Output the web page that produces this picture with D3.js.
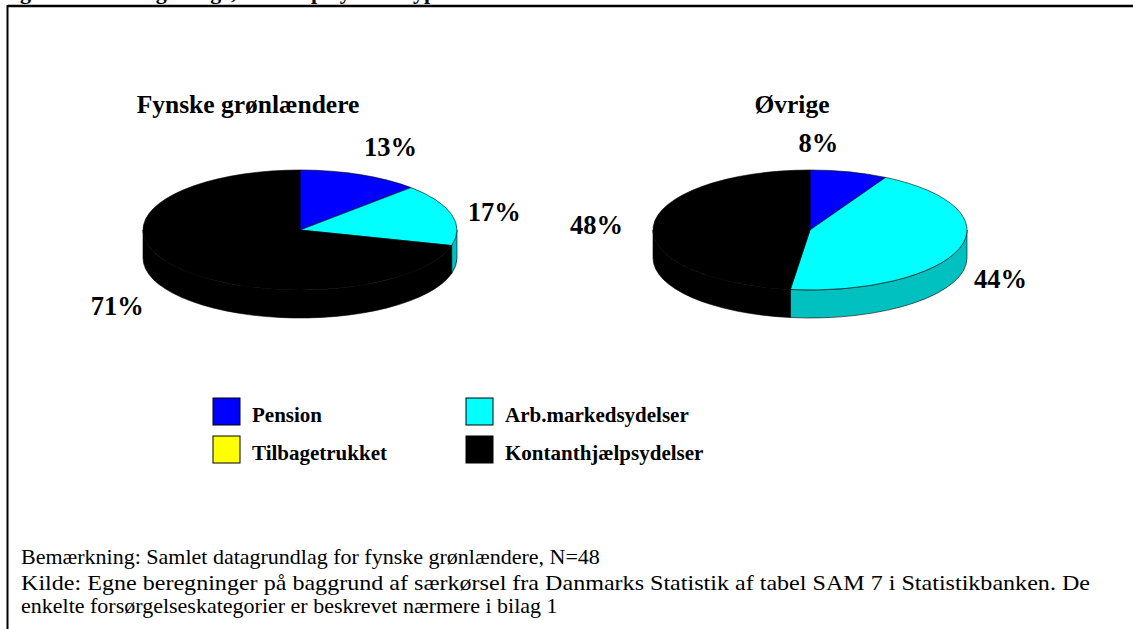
<!DOCTYPE html>
<html>
<head>
<meta charset="utf-8">
<script src="https://cdn.jsdelivr.net/npm/d3@7"></script>
<style>
  body { margin: 0; background: #fff; }
  svg { display: block; font-family: "Liberation Serif", "Times New Roman", serif; }
</style>
</head>
<body>
<svg width="1133" height="629"></svg>
<script>
// data (antal personer, N=48 for fynske grønlændere)
var categories = ["Pension", "Arb.markedsydelser", "Tilbagetrukket", "Kontanthjælpsydelser"];
var fynskeValues = [6, 8, 0, 34];
var ovrigeValues = [8, 44, 0, 48];
var pieTitles = ["Fynske grønlændere", "Øvrige"];
var headerText = "grønlændere og øvrige, fordelt på ydelsestype";
var noteLines = [
  "Bemærkning: Samlet datagrundlag for fynske grønlændere, N=48",
  "Kilde: Egne beregninger på baggrund af særkørsel fra Danmarks Statistik af tabel SAM 7 i Statistikbanken. De",
  "enkelte forsørgelseskategorier er beskrevet nærmere i bilag 1"
];

var topColor = d3.scaleOrdinal().domain(categories)
  .range(["#0000ff", "#00ffff", "#ffff00", "#000000"]);
var sideColor = d3.scaleOrdinal().domain(categories)
  .range(["#0000a8", "#00c0c0", "#c0c000", "#000000"]);

var svg = d3.select("svg");

// frame
svg.append("line").attr("x1", 8).attr("x2", 1133).attr("y1", 6).attr("y2", 6)
  .attr("stroke", "#000").attr("stroke-width", 2.5);
svg.append("line").attr("x1", 7.5).attr("x2", 7.5).attr("y1", 5).attr("y2", 629)
  .attr("stroke", "#000").attr("stroke-width", 2);

// heading, cut off at the top like the source
svg.append("text").attr("x", 20).attr("y", -1)
  .attr("font-size", 22).attr("font-weight", "bold").text(headerText);

var rx = 157, ry = 60, depth = 28;
var pct = d3.format(".0%");

var pie = d3.pie().sort(null).value(function (d) { return d.value; });

var charts = [
  { title: pieTitles[0], values: fynskeValues, cx: 300, cy: 230, tx: 248,
    nudge: [[16, 9], [6, 8], [0, 0], [-28, 1]] },
  { title: pieTitles[1], values: ovrigeValues, cx: 810, cy: 230, tx: 792,
    nudge: [[-40, 10], [5, 4], [0, 0], [-19, 1]] }
];

function pt(c, a, dy) {
  return [c.cx + rx * Math.sin(a), c.cy - ry * Math.cos(a) + (dy || 0)];
}

function topPath(c, d) {
  var p0 = pt(c, d.startAngle), p1 = pt(c, d.endAngle);
  var large = d.endAngle - d.startAngle > Math.PI ? 1 : 0;
  return "M" + c.cx + "," + c.cy + "L" + p0 + "A" + rx + "," + ry + " 0 " + large + " 1 " + p1 + "Z";
}

function sidePath(c, d) {
  var s = Math.max(d.startAngle, Math.PI / 2), e = Math.min(d.endAngle, 3 * Math.PI / 2);
  if (e <= s) return null;
  return "M" + pt(c, s) + "A" + rx + "," + ry + " 0 0 1 " + pt(c, e) +
    "L" + pt(c, e, depth) + "A" + rx + "," + ry + " 0 0 0 " + pt(c, s, depth) + "Z";
}

charts.forEach(function (c) {
  var total = d3.sum(c.values);
  var arcs = pie(categories.map(function (k, i) { return { key: k, value: c.values[i] }; }));
  var g = svg.append("g");

  g.append("text").attr("x", c.tx).attr("y", 113).attr("text-anchor", "middle")
    .attr("font-size", 25.5).attr("font-weight", "bold").text(c.title);

  g.selectAll("path.side")
    .data(arcs.filter(function (d) { return d.value > 0 && sidePath(c, d); }))
    .join("path").attr("class", "side")
    .attr("d", function (d) { return sidePath(c, d); })
    .attr("fill", function (d) { return sideColor(d.data.key); })
    .attr("stroke", "#000").attr("stroke-width", 0.6);

  g.selectAll("path.top")
    .data(arcs.filter(function (d) { return d.value > 0; }))
    .join("path").attr("class", "top")
    .attr("d", function (d) { return topPath(c, d); })
    .attr("fill", function (d) { return topColor(d.data.key); })
    .attr("stroke", "#000").attr("stroke-width", 0.6);

  g.selectAll("text.lbl")
    .data(arcs.filter(function (d) { return d.value > 0; }))
    .join("text").attr("class", "lbl")
    .attr("x", function (d) {
      var m = (d.startAngle + d.endAngle) / 2;
      return c.cx + (rx + 38) * Math.sin(m) + c.nudge[d.index][0];
    })
    .attr("y", function (d) {
      var m = (d.startAngle + d.endAngle) / 2;
      var y = c.cy - (ry + 40) * Math.cos(m);
      if (Math.cos(m) < 0) y += depth / 2;
      return y + c.nudge[d.index][1];
    })
    .attr("dy", "0.35em").attr("text-anchor", "middle")
    .attr("font-size", 26.5).attr("font-weight", "bold")
    .text(function (d) { return pct(d.value / total); });
});

// legend
var legend = svg.append("g").selectAll("g")
  .data(categories)
  .join("g")
  .attr("transform", function (d, i) {
    return "translate(" + [213 + (i % 2) * 253, 398 + Math.floor(i / 2) * 38] + ")";
  });

legend.append("rect").attr("width", 27).attr("height", 27)
  .attr("fill", function (d) { return topColor(d); })
  .attr("stroke", "#000").attr("stroke-width", 1);

legend.append("text").attr("x", 39).attr("y", 24)
  .attr("font-size", 21).attr("font-weight", "bold")
  .text(function (d) { return d; });

// notes
var notes = svg.append("g").selectAll("text")
  .data(noteLines)
  .join("text")
  .attr("x", 21)
  .attr("y", function (d, i) { return [564, 590, 613][i]; })
  .attr("font-size", 22)
  .text(function (d) { return d; });

notes.filter(function (d, i) { return i === 1; })
  .attr("textLength", 1069)
  .attr("lengthAdjust", "spacingAndGlyphs");
</script>
</body>
</html>
